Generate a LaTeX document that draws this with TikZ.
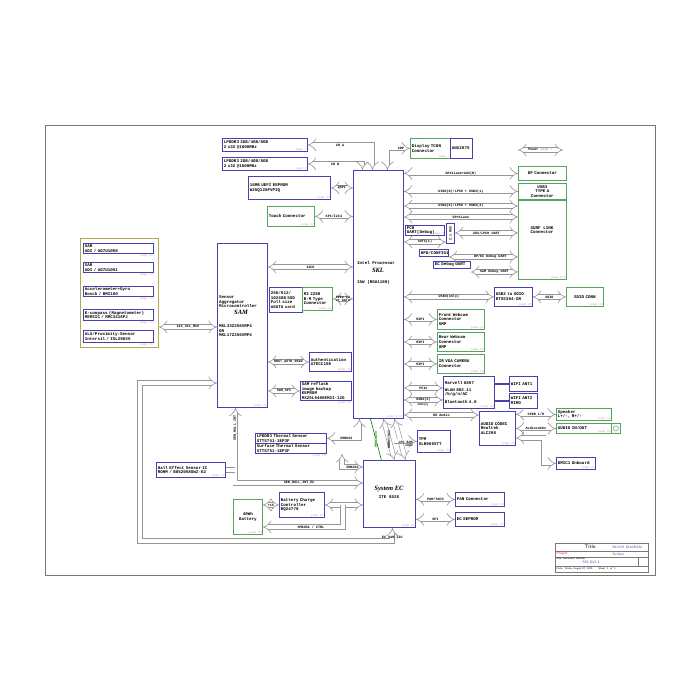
\documentclass[tikz,border=0pt]{standalone}
\usepackage{fontspec}
\setmainfont{Liberation Serif}
\setmonofont{Liberation Mono}
\usetikzlibrary{positioning, arrows.meta, calc}

\definecolor{blkline}{RGB}{72,64,176}
\definecolor{grnline}{RGB}{84,164,96}
\definecolor{olvline}{RGB}{180,168,80}
\definecolor{pgtext}{RGB}{236,150,172}
\definecolor{busline}{RGB}{150,150,150}
\definecolor{frameline}{RGB}{120,120,120}

\begin{document}
\begin{tikzpicture}[
  x=1pt, y=-1pt,
  font=\ttfamily\bfseries\fontsize{4.2}{4.6}\selectfont,
  blk/.style={draw=blkline, line width=0.8pt, inner xsep=1.5pt, inner ysep=0.8pt, align=left, anchor=north west},
  grn/.style={blk, draw=grnline},
  olv/.style={blk, draw=olvline},
  sz/.style 2 args={text width=#1pt, minimum height=#2pt},
  big/.style 2 args={minimum width=#1pt, minimum height=#2pt},
  pg/.style={font=\ttfamily\fontsize{3}{3}\selectfont, text=pgtext, inner sep=0.8pt},
  pgl/.style={label={[pg, anchor=south east]south east:page #1}},
  pgo/.style={label={[pg, anchor=north east]south east:page #1}},
  bus/.style={draw=busline, line width=0.6pt, double=white, double distance=4pt, Implies-Implies},
  blab/.style={font=\ttfamily\bfseries\fontsize{3.4}{3.8}\selectfont, inner sep=0pt},
  ant/.style={draw=blkline, line width=1.4pt},
  ital/.style={font=\rmfamily\bfseries\itshape\fontsize{6.5}{6.5}\selectfont, inner sep=0pt},
  ttl/.style={font=\sffamily\fontsize{3.4}{3.8}\selectfont, inner sep=0.5pt, anchor=west}
]
\fill[white] (0,0) rectangle (700,700);
\useasboundingbox (0,0) rectangle (700,700);
\draw[frameline, line width=0.5pt] (45,125) rectangle (655,575);

% memory, flash and left side of the processor
\node[blk, sz={82}{13}, pgl=7] (ddr1) at (222,138) {LPDDR3 2GB/4GB/8GB\\2 x32 @1600MHz};
\node[blk, sz={82}{13}, pgl=7] (ddr2) at (222,157) {LPDDR3 2GB/4GB/8GB\\2 x32 @1600MHz};
\node[blk, sz={79}{23}, pgl=37] (uefi) at (248,176) {16MB UEFI EEPROM\\W25Q128FVPIQ};
\node[grn, sz={44}{20}, pgl=37] (touch) at (267,206) {Touch Connector};
\node[blk, sz={30}{25}] (ssd) at (269,287) {256/512/\\1024GB SSD\\Full size\\mSATA card};
\node[grn, sz={27}{23}, pgl=40] (m2) at (302,287) {M2 2280\\B-M Type\\Connector};
\node[blk, sz={39}{19}, pgl=36] (auth) at (309,352) {Authentication\\ATECC108};
\node[blk, sz={48}{19}, pgo=35] (reflash) at (300,381) {SAM reflash\\image backup\\EEPROM\\MX25L6406EM2I-12G};

% processor
\node[blk, big={50}{248}, pgl={2\textasciitilde17}] (cpu) at (353,170) {};
\node[anchor=west, inner sep=0pt] (cpuname) at (357,263) {Intel Processor};
\node[ital] (cpusk) at (378,270) {SKL};
\node[anchor=west, inner sep=0pt] (cpupw) at (357,282) {15W (BGA1160)};

% display
\node[grn, sz={37}{20}, pgl=7] (tcon) at (410,138) {Display TCON\\Connector};
\node[blk, sz={19}{20}] (anx) at (450,138) {ANX2875};

% sensor hub
\node[blk, big={50}{164}, pgl=11] (sam) at (217,243) {};
\node[anchor=west, align=left, inner sep=0pt] (samdesc) at (219,302) {Sensor\\Aggregator\\Microcontroller};
\node[ital] (samname) at (241,312) {SAM};
\node[anchor=west, align=left, inner sep=0pt] (sampart) at (219,331) {MKL33Z256VMP4\\OR\\MKL17Z256VMP4};

\node[olv, big={78}{109}] (sensors) at (80,238) {};
\node[blk, sz={67}{10}, pgo=12] (sar1) at (83,243) {SAR\\ADI / AD7U1050};
\node[blk, sz={67}{10}, pgo=12] (sar2) at (83,262) {SAR\\ADI / AD7U1051};
\node[blk, sz={67}{10}, pgo=11] (accel) at (83,286) {Accelerometer+Gyro\\Bosch / BMI160};
\node[blk, sz={67}{11}, pgo=11] (ecomp) at (83,309) {E-compass (Magnetometer)\\MEMSIC / MMC3416PJ};
\node[blk, sz={67}{12}, pgo=11] (als) at (83,330) {ALS/Proximity-Sensor\\Intersil / ISL29035};

% right side connectors
\node[grn, sz={45}{14}, align=center] (dp) at (518,166) {DP Connector};
\node[grn, sz={45}{16}, align=center] (usba) at (518,183) {USB3\\TYPE A\\Connector};
\node[grn, big={48}{79}, pgl={8/9}] (surf) at (518,200) {};
\node[align=center, inner sep=0pt] (surftxt) at (542,230) {SURF LINK\\Connector};
\node[blk, sz={36}{10}, pgl=8] (pchuart) at (405,225) {PCH UART(Debug)};
\node[blk, big={8}{20}] (mux) at (446,223) {};
\node[blab, rotate=90] (muxtxt) at (mux.center) {2:1 MUX};
\node[blk, sz={26}{7}] (hpd) at (419,249) {HPD/CONFIG1};
\node[blk, sz={34}{7}] (ecdbg) at (433,261) {EC Debug UART};

\node[blk, sz={35}{19}, pgl=46] (usbsd) at (494,287) {USB2 to SDIO\\RTS5304-GR};
\node[grn, sz={34}{19}, align=center, pgl=46] (sdio) at (566,287) {SDIO CONN};
\node[grn, sz={44}{20}, pgl=33] (fcam) at (437,309) {Front Webcam\\Connector\\5MP};
\node[grn, sz={44}{19}, pgl=33] (rcam) at (437,332) {Rear Webcam\\Connector\\8MP};
\node[grn, sz={44}{19}, pgl=33] (ircam) at (437,354) {IR VGA CAMERA\\Connector};

\node[blk, sz={48}{32}, pgl=42] (wlan) at (443,376) {Marvell 8897\\[2pt]WLAN 802.11 /b/g/n/AC\\[3pt]Bluetooth 4.0};
\node[blk, sz={25}{15}] (ant1) at (509,376) {WIFI ANT1};
\node[blk, sz={25}{15}] (ant2) at (509,393) {WIFI ANT2\\MIMO};

\node[blk, sz={33}{34}, pgl=30] (codec) at (479,411) {AUDIO CODEC\\Realtek\\ALC298};
\node[grn, sz={52}{12}, pgl=31] (spk) at (556,408) {Speaker\\L+/-, R+/-};
\node[grn, sz={52}{10}, pgl=31] (aud) at (556,423) {AUDIO IN/OUT};
\node[grn, big={9}{10}] (jack) at (611,423) {};
\draw[grnline, line width=0.5pt] (jack.center) circle (2.6);
\node[blk, sz={36}{12}, pgl=31] (dmic) at (556,457) {DMIC1 Onboard};

% embedded controller side
\node[blk, sz={30}{22}, pgl=39] (tpm) at (417,430) {TPM\\SLB9665TT};
\node[blk, sz={68}{10}] (thm1) at (255,433) {LPDDR3 Thermal Sensor\\STTS751-1EP3F};
\node[blk, sz={68}{10}, pgo=38] (thm2) at (255,443) {Surface Thermal Sensor\\STTS751-1EP3F};
\node[blk, sz={66}{15}, pgl=12] (hall) at (156,462) {Hall Effect Sensor IC\\ROHM / BU52058GWZ-E2};
\node[blk, sz={42}{25}, pgl=27] (chg) at (279,492) {Battery Charge\\Controller\\BQ24770};
\node[grn, sz={26}{35}, align=center, pgl=28] (batt) at (233,499) {40Wh\\Battery};
\node[blk, big={52}{67}, pgl=25] (ec) at (363,460) {};
\node[ital] (ecname) at (389,489) {System EC};
\node[inner sep=0pt] (ecpart) at (389,497) {ITE 8528};
\node[blk, sz={46}{14}, pgl=26] (fan) at (455,492) {FAN Connector};
\node[blk, sz={46}{14}, pgl=27] (eceep) at (455,512) {EC EEPROM};

% buses
\draw[bus] (ddr1.east) -| ([xshift=-6pt]cpu.north) node[blab, pos=.25] (lcha) {CH A};
\draw[bus] (ddr2.east) -| ([xshift=-16pt]cpu.north) node[blab, pos=.25] (lchb) {CH B};
\draw[bus] ([xshift=9pt]cpu.north) |- (tcon.west) node[blab, pos=.8] (ledp) {eDP};
\draw[bus] (uefi.east) -- (uefi.east -| cpu.west) node[blab, midway] (lqspi) {QSPI};
\draw[bus] (touch.east) -- (touch.east -| cpu.west) node[blab, midway] (lspi) {SPI/I2C4};
\draw[bus] (sam.east |- 0,267) -- (cpu.west |- 0,267) node[blab, midway] (li2c) {I2C0};
\draw[bus] (m2.east) -- (m2.east -| cpu.west) node[blab, midway, align=center] (lpcie) {PCIe x2\\or SATA};
\draw[bus] (sam.east |- auth.west) -- (auth.west) node[blab, midway] (lauth) {HOST\_AUTH\_RSVD};
\draw[bus] (sam.east |- reflash.west) -- (reflash.west) node[blab, midway] (lsspi) {SAM\_SPI};
\draw[bus] (sensors.east |- 0,327) -- (sam.west |- 0,327) node[blab, midway] (lscl) {I2C\_SCL\_MCU};
\draw[bus] (sam.west |- 0,383) -| (140,541) -| ([xshift=3pt]ec.south) node[blab, pos=.62] (lecsam) {EC\_SAM\_I2C};

\coordinate (pwrl) at (518,150);
\coordinate (pwrr) at (563,150);
\draw[bus] (pwrl) -- (pwrr) node[blab, midway] (lpwr) {Power \textcolor{pgtext}{page 7}};

\draw[bus] (cpu.east |- dp.west) -- (dp.west) node[blab, midway] (ldp) {DP\#1Lane+AUX(B)};
\draw[bus] (cpu.east |- usba.west) -- (usba.west) node[blab, midway] (lusba) {USB2(0)/LPS0 + USB3(1)};
\draw[bus] (cpu.east |- 0,206) -- (surf.west |- 0,206) node[blab, midway] (lsurf1) {USB2(6)/LPS0 + USB3(4)};
\draw[bus] (cpu.east |- 0,217) -- (surf.west |- 0,217) node[blab, midway] (lsurf2) {DP\#1Lane};
\draw[bus] (mux.east |- 0,233) -- (surf.west |- 0,233) node[blab, midway] (laux) {AUX/LPCH UART};
\draw[bus] (cpu.east |- 0,242) -- (mux.west |- 0,242) node[blab, midway] (lsutc) {SUTC(1)};
\draw[bus] (hpd.east |- 0,257) -- (surf.west |- 0,257) node[blab, pos=.6] (ldbg) {DP/EC Debug UART};
\draw[bus] (ecdbg.east |- 0,272) -- (surf.west |- 0,272) node[blab, midway] (lsdbg) {SAM Debug UART};

\draw[bus] (cpu.east |- usbsd.west) -- (usbsd.west) node[blab, midway] (lusb3) {USB3(only)};
\draw[bus] (usbsd.east) -- (sdio.west) node[blab, midway] (lsdio) {SDIO};
\draw[bus] (cpu.east |- fcam.west) -- (fcam.west) node[blab, midway] (lmipi1) {MIPI};
\draw[bus] (cpu.east |- rcam.west) -- (rcam.west) node[blab, midway] (lmipi2) {MIPI};
\draw[bus] (cpu.east |- ircam.west) -- (ircam.west) node[blab, midway] (lmipi3) {MIPI};
\draw[bus] (cpu.east |- 0,388) -- (wlan.west |- 0,388) node[blab, midway] (lwpcie) {PCIe};
\draw[bus] (cpu.east |- 0,400) -- (wlan.west |- 0,400) node[blab, midway] (lwusb) {USB2(3)};
\node[blab, font=\ttfamily\bfseries\fontsize{2.6}{3}\selectfont] (lwusb2) at (423,405) {SDIO(0)};
\draw[ant] (wlan.east |- ant1.west) -- (ant1.west);
\draw[ant] (wlan.east |- ant2.west) -- (ant2.west);
\draw[bus] (cpu.east |- 0,415) -- (codec.west |- 0,415) node[blab, midway] (lhda) {HD Audio};
\draw[bus] (codec.east |- spk.west) -- (spk.west) node[blab, midway] (lspk) {SPKR L/R};
\draw[bus] (codec.east |- aud.west) -- (aud.west) node[blab, midway] (lcombo) {Audiocombo};
\draw[bus] (codec.east |- 0,438) -- ++(28,0) |- (dmic.west);

\draw[bus] (thm1.east) -| ([xshift=-19pt]cpu.south) node[blab, pos=.3] (lsmb3a) {SMBUS3};
\draw[bus] (thm2.south -| 342,0) |- (ec.west |- 0,467) node[blab, pos=.75] (lsmb3b) {SMBUS3};
\draw[green!50!black, line width=0.6pt] ([xshift=-8pt]cpu.south) -- ([xshift=-8pt]ec.north) node[blab, midway, rotate=90, fill=white] (lprochot) {PROCHOT\#};
\draw[bus] ([xshift=5pt]cpu.south) -- ([xshift=5pt]ec.north) node[blab, midway, rotate=90] (lkbc) {KBRST/SCI};
\draw[bus] ([xshift=16pt]cpu.south) -- ([xshift=16pt]ec.north);
\draw[bus, -Implies] ([xshift=16pt]cpu.south |- tpm.west) -- (tpm.west) node[blab, midway, above=-2pt] (llpc) {LPC BUS};
\node[blab, font=\ttfamily\bfseries\fontsize{2.6}{3}\selectfont] (llpc2) at (409,446) {33MHz};

\draw[bus] ([xshift=-7pt]sam.south) |- (ec.west |- 0,483) node[blab, pos=.75] (lhallec) {SEN\_HALL\_INT\_EC};
\node[blab, rotate=90] (lhall) at (235,428) {SEN\_HALL\_INT};
\draw[bus, -] (hall.east) -- (hall.east -| 235,0);
\draw[bus] (chg.east) -- (chg.east -| ec.west);
\draw[bus, Implies-] (batt.east |- 0,527) -| (343,505) node[blab, pos=.3] (lsmb1) {SMBUS1 / CTRL};
\draw[bus] (batt.east |- chg.west) -- (chg.west) node[blab, midway] (l1s) {+1S};
\draw[bus] (ec.east |- fan.west) -- (fan.west) node[blab, midway] (lpwm) {PWM/TACH};
\draw[bus] (ec.east |- eceep.west) -- (eceep.west) node[blab, midway] (lecspi) {SPI};

% title block
\draw[frameline, line width=0.5pt] (555,543) rectangle (648,572);
\draw[frameline, line width=0.3pt] (555,551) -- (648,551) (555,557) -- (648,557) (555,566) -- (648,566) (638,557) -- (638,566);
\node[ttl, font=\sffamily\fontsize{5}{5}\selectfont] (ttitle) at (584,547) {Title:};
\node[ttl, text=blkline] (tblock) at (612,547) {BLOCK DIAGRAM};
\node[ttl, text=red] (tproj) at (556,554) {Project};
\node[ttl, text=blkline] (tsurf) at (612,554) {Surface};
\node[ttl, font=\sffamily\fontsize{2.6}{3}\selectfont] (tsize) at (556,559) {Size \ Document Number};
\node[ttl, text=blkline] (tdoc) at (582,562) {SSS DV1.3};
\node[ttl, font=\sffamily\fontsize{2.6}{3}\selectfont] (tdate) at (556,569) {Date: \ Friday, August 07, 2015 \qquad Sheet \ 1 \ of \ 1};
\end{tikzpicture}
\end{document}
